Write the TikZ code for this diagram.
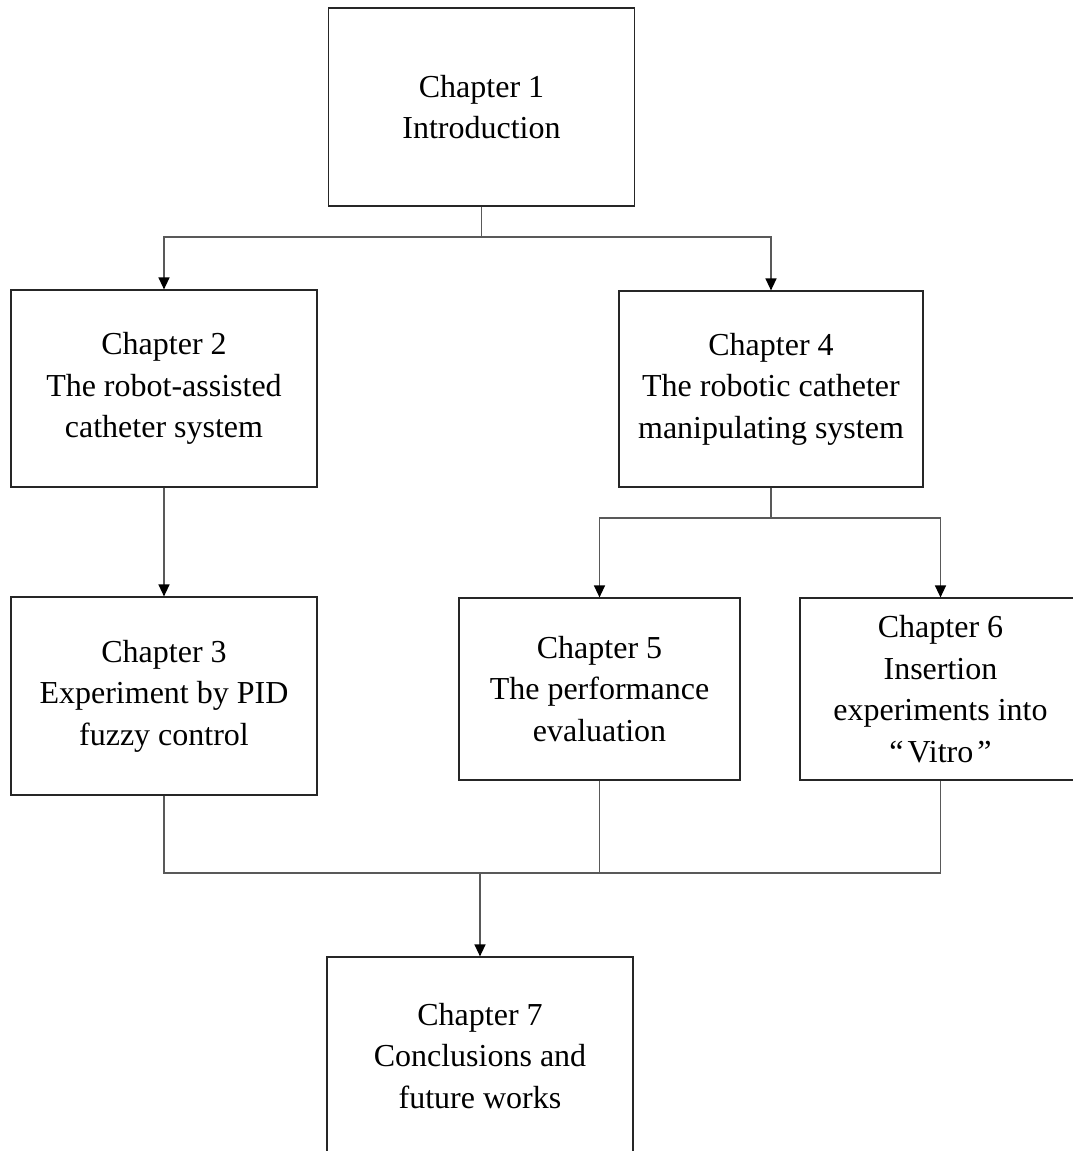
\documentclass[tikz,border=0pt]{standalone}
\usepackage{fontspec}
\setmainfont{Liberation Serif}
\usetikzlibrary{arrows.meta}
\begin{document}
\begin{tikzpicture}[x=1pt,y=-1pt,
  chbox/.style={draw=black!85, line width=1.2pt, inner sep=0pt, align=center,
    font=\fontsize{32}{41.5}\selectfont},
  conn/.style={draw=black!65, line width=1.4pt},
  arr/.style={conn, -{Triangle[length=12pt,width=11pt,color=black]}}]
\useasboundingbox (0,0) rectangle (1073,1151);
\clip (0,0) rectangle (1073,1151);
\node[chbox, minimum width=306pt, minimum height=198pt] (b1) at (481.5,107) {Chapter 1\\Introduction};
\node[chbox, minimum width=306pt, minimum height=197pt] (b2) at (164,388.5) {Chapter 2\\The robot-assisted\\catheter system};
\node[chbox, minimum width=304pt, minimum height=196pt] (b4) at (771,389) {Chapter 4\\The robotic catheter\\manipulating system};
\node[chbox, minimum width=306pt, minimum height=198pt] (b3) at (164,696) {Chapter 3\\Experiment by PID\\fuzzy control};
\node[chbox, minimum width=281pt, minimum height=182pt] (b5) at (599.5,689) {Chapter 5\\The performance\\evaluation};
\node[chbox, minimum width=281pt, minimum height=182pt] (b6) at (940.5,689) {Chapter 6\\Insertion\\experiments into\\“\kern4pt Vitro\kern4pt ”};
\node[chbox, minimum width=306pt, minimum height=198pt] (b7) at (480,1056) {Chapter 7\\Conclusions and\\future works};
% top split
\coordinate (j1) at (481.5,237);
\draw[conn] (b1.south) -- (j1);
\draw[arr] (j1) -| (b2.north);
\draw[arr] (j1) -| (b4.north);
\draw[arr] (b2.south) -- (b3.north);
% chapter 4 split
\coordinate (j2) at (771,518);
\draw[conn] (b4.south) -- (j2);
\draw[arr] (j2) -| (b5.north);
\draw[arr] (j2) -| (b6.north);
% merge
\coordinate (m3) at (164,873);
\coordinate (m6) at (940.5,873);
\draw[conn] (b3.south) -- (m3) -- (m6) -- (b6.south);
\draw[conn] (b5.south) -- (b5.south |- m3);
\draw[arr] (b7.north |- m3) -- (b7.north);
\end{tikzpicture}
\end{document}
